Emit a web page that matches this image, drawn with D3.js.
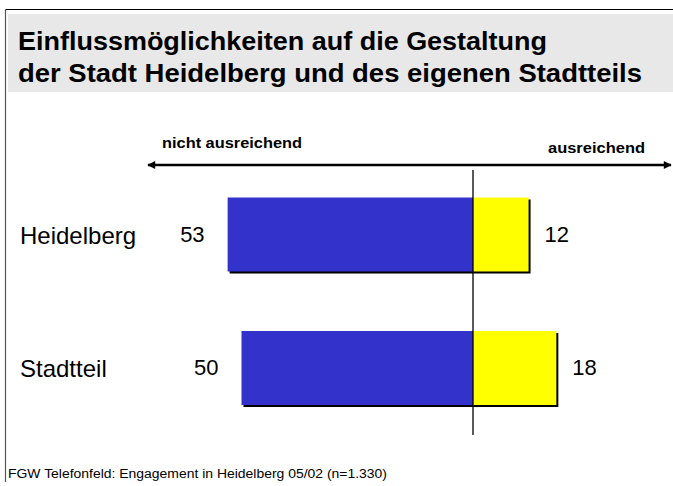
<!DOCTYPE html>
<html><head><meta charset="utf-8">
<script src="https://cdn.jsdelivr.net/npm/d3@7"></script>
<style>body{margin:0;background:#fff}svg{display:block;font-family:"Liberation Sans",Arial,sans-serif}</style>
</head><body>
<script>
const categories = ["Heidelberg", "Stadtteil"];
const notEnough = [53, 50];
const enough = [12, 18];
const titleLines = ["Einflussmöglichkeiten auf die Gestaltung", "der Stadt Heidelberg und des eigenen Stadtteils"];
const axisLabels = ["nicht ausreichend", "ausreichend"];
const footnote = "FGW Telefonfeld: Engagement in Heidelberg 05/02 (n=1.330)";

const W = 673, H = 486;
const svg = d3.select("body").append("svg").attr("width", W).attr("height", H);

// frame and title band
svg.append("rect").attr("x", 8).attr("y", 14).attr("width", W - 8).attr("height", 78).attr("fill", "#e8e8e8");
svg.append("line").attr("x1", 5.5).attr("x2", W).attr("y1", 9.5).attr("y2", 9.5).attr("stroke", "#000").attr("stroke-width", 1.2);
svg.append("line").attr("x1", 5.5).attr("x2", 5.5).attr("y1", 9.5).attr("y2", 482).attr("stroke", "#555").attr("stroke-width", 1.2);

const titleWidths = [529, 624];
svg.append("g").selectAll("text").data(titleLines).join("text")
  .attr("x", 18).attr("y", (d, i) => 50 + i * 32)
  .attr("font-size", 25).attr("font-weight", "bold").attr("fill", "#000")
  .attr("textLength", (d, i) => titleWidths[i]).attr("lengthAdjust", "spacingAndGlyphs")
  .text(d => d);

const x = d3.scaleLinear().domain([-60, 40]).range([473 - 60 * 4.63, 473 + 40 * 4.63]);
const y = d3.scalePoint().domain(categories).range([234.5, 368]);
const bh = 74;

// arrow axis
const defs = svg.append("defs");
defs.append("marker").attr("id", "ah").attr("viewBox", "0 0 10 10").attr("refX", 9).attr("refY", 5)
  .attr("markerWidth", 4.5).attr("markerHeight", 3.2).attr("orient", "auto-start-reverse").attr("markerUnits", "strokeWidth")
  .append("path").attr("d", "M0,0L10,5L0,10Z").attr("fill", "#000");
svg.append("line").attr("x1", 148).attr("x2", 671).attr("y1", 165).attr("y2", 165)
  .attr("stroke", "#000").attr("stroke-width", 2.5)
  .attr("marker-start", "url(#ah)").attr("marker-end", "url(#ah)");
svg.append("text").attr("x", 162).attr("y", 148).attr("font-size", 14.5).attr("font-weight", "bold")
  .attr("textLength", 140).attr("lengthAdjust", "spacingAndGlyphs").text(axisLabels[0]);
svg.append("text").attr("x", 548).attr("y", 153).attr("font-size", 14.5).attr("font-weight", "bold")
  .attr("textLength", 97).attr("lengthAdjust", "spacingAndGlyphs").text(axisLabels[1]);

const rows = categories.map((c, i) => ({c, neg: notEnough[i], pos: enough[i]}));
const g = svg.append("g");
// shadows
g.selectAll("rect.sh").data(rows).join("rect").attr("class", "sh")
  .attr("x", d => x(-d.neg) + 2).attr("y", d => y(d.c) - bh / 2 + 2)
  .attr("width", d => x(d.pos) - x(-d.neg)).attr("height", bh).attr("fill", "#000");
g.selectAll("rect.neg").data(rows).join("rect").attr("class", "neg")
  .attr("x", d => x(-d.neg)).attr("y", d => y(d.c) - bh / 2)
  .attr("width", d => x(0) - x(-d.neg)).attr("height", bh).attr("fill", "#3333cc");
g.selectAll("rect.pos").data(rows).join("rect").attr("class", "pos")
  .attr("x", x(0)).attr("y", d => y(d.c) - bh / 2)
  .attr("width", d => x(d.pos) - x(0)).attr("height", bh).attr("fill", "#ffff00");

// center line
svg.append("line").attr("x1", x(0)).attr("x2", x(0)).attr("y1", 170).attr("y2", 435).attr("stroke", "#000").attr("stroke-width", 1.3);

// labels
g.selectAll("text.cat").data(rows).join("text").attr("class", "cat")
  .attr("x", 20).attr("y", d => y(d.c) + 9).attr("font-size", 24).text(d => d.c);
g.selectAll("text.nv").data(rows).join("text").attr("class", "nv")
  .attr("x", d => x(-d.neg) - 23).attr("y", d => y(d.c) + 7).attr("font-size", 22).attr("text-anchor", "end").text(d => d.neg);
g.selectAll("text.pv").data(rows).join("text").attr("class", "pv")
  .attr("x", d => x(d.pos) + 16).attr("y", d => y(d.c) + 7).attr("font-size", 22).text(d => d.pos);

svg.append("text").attr("x", 8).attr("y", 478).attr("font-size", 12.5).attr("fill", "#000")
  .attr("textLength", 379).attr("lengthAdjust", "spacingAndGlyphs").text(footnote);
</script>
</body></html>
